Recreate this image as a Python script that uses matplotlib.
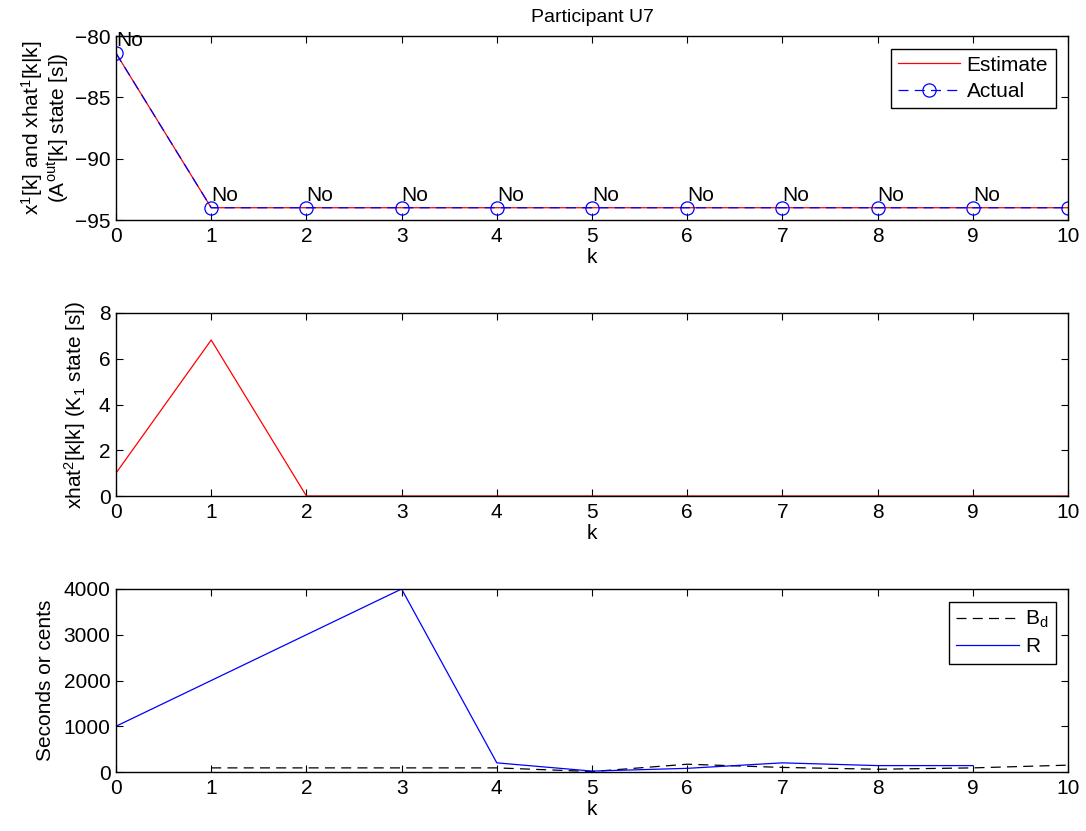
import matplotlib
matplotlib.use("Agg")
import matplotlib.pyplot as plt
import numpy as np

plt.rcParams['font.family'] = ['Liberation Sans', 'DejaVu Sans']
plt.rcParams['font.size'] = 15
plt.rcParams['mathtext.fontset'] = 'custom'
plt.rcParams['mathtext.rm'] = 'Liberation Sans'
plt.rcParams['mathtext.it'] = 'Liberation Sans'

# Time steps
k = list(range(11))

# State 1: estimate and actual
x1_estimate = [-81.4, -94, -94, -94, -94, -94, -94, -94, -94, -94, -94]
x1_actual = [-81.4, -94, -94, -94, -94, -94, -94, -94, -94, -94, -94]
point_labels = ["No"] * 10

# State 2 estimate
x2_estimate = [1.0, 6.82, 0, 0, 0, 0, 0, 0, 0, 0, 0]

# Bid and reward series
k_bd = list(range(1, 11))
b_d = [90, 90, 90, 90, 10, 170, 100, 60, 90, 150]
k_r = list(range(10))
r_vals = [1000, 2000, 3000, 4000, 200, 20, 80, 200, 140, 140]

W, H = 1086, 831
fig = plt.figure(figsize=(W / 100, H / 100), dpi=100)


def make_axes(left, top, right, bottom):
    return fig.add_axes([left / W, 1 - bottom / H, (right - left) / W, (bottom - top) / H])


def style(ax):
    ax.tick_params(direction='in', top=True, right=True, length=5, width=0.8)
    ax.tick_params(axis='x', pad=5)
    ax.tick_params(axis='y', pad=4)
    for s in ax.spines.values():
        s.set_linewidth(1.0)
    ax.set_xlim(0, 10)
    ax.set_xticks(k)
    ax.set_xlabel('k', labelpad=1.5)


ax1 = make_axes(116, 36, 1068, 220)
ax2 = make_axes(116, 313, 1068, 496)
ax3 = make_axes(116, 589, 1068, 772)

leg_kw = dict(loc='upper right', fancybox=False, edgecolor='black', framealpha=1,
              handlelength=3.0, borderpad=0.35, labelspacing=0.35, handletextpad=0.3,
              borderaxespad=0.6)

# Top panel
ax1.plot(k, x1_estimate, color='red', lw=0.9, label='Estimate')
ax1.plot(k, x1_actual, color='blue', lw=0.9, ls=(0, (8, 5)), marker='o', ms=9.5,
         mfc='none', mec='blue', mew=0.9, label='Actual')
for i, lab in enumerate(point_labels):
    ax1.text(k[i], x1_actual[i] + 1, lab, ha='left', va='center')
ax1.set_ylim(-95, -80)
ax1.set_yticks([-95, -90, -85, -80])
ax1.set_yticklabels(['\u221295', '\u221290', '\u221285', '\u221280'])
style(ax1)
ax1.set_ylabel('x$^1$[k] and xhat$^1$[k|k]\n(A$^{out}$[k] state [s])', labelpad=3, linespacing=1.0)
ax1.set_title('Participant U7', fontsize=14, pad=10)
leg1 = ax1.legend(**leg_kw)
leg1.get_frame().set_linewidth(1.0)

# Middle panel
ax2.plot(k, x2_estimate, color='red', lw=0.9)
ax2.set_ylim(0, 8)
ax2.set_yticks([0, 2, 4, 6, 8])
style(ax2)
ax2.set_ylabel('xhat$^2$[k|k] (K$_1$ state [s])', labelpad=8)

# Bottom panel
ax3.plot(k_bd, b_d, color='black', lw=0.9, ls=(0, (8, 5)), label='B$_d$')
ax3.plot(k_r, r_vals, color='blue', lw=0.9, label='R')
ax3.set_ylim(0, 4000)
ax3.set_yticks([0, 1000, 2000, 3000, 4000])
style(ax3)
ax3.set_ylabel('Seconds or cents', labelpad=6)
leg3 = ax3.legend(**leg_kw)
leg3.get_frame().set_linewidth(1.0)

fig.savefig('out.png', dpi=100, facecolor='white')
